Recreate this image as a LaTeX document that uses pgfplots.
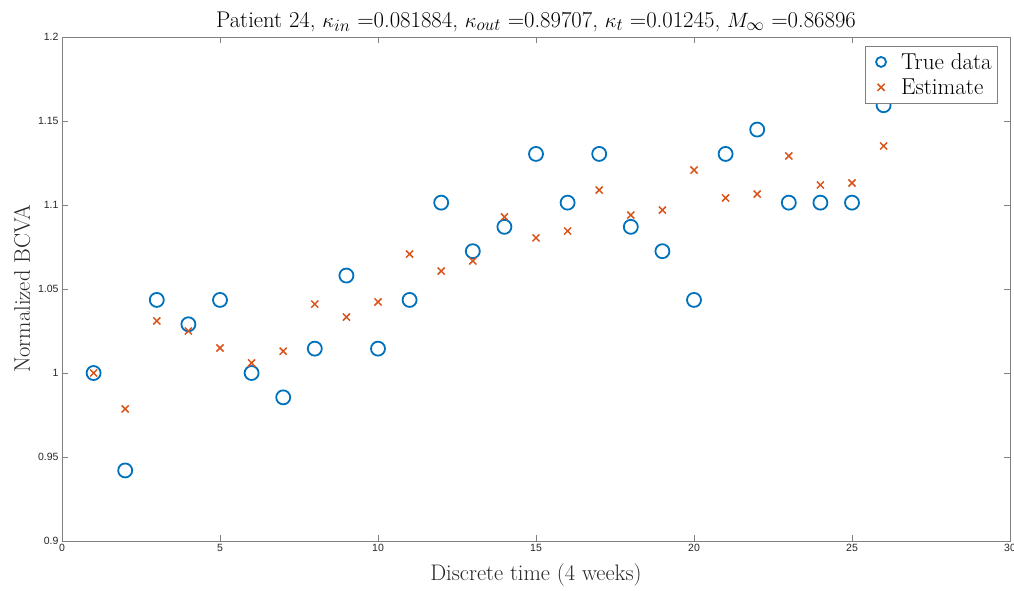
\documentclass[border=0pt]{standalone}
\usepackage{pgfplots}
\pgfplotsset{compat=1.18}
\usepackage{fontspec}
\newfontfamily\tickfont{Liberation Sans}
\definecolor{mblue}{RGB}{0,114,189}
\definecolor{morange}{RGB}{217,83,25}
\definecolor{axgray}{RGB}{128,128,128}
\definecolor{txtgray}{RGB}{38,38,38}
\begin{document}
\begin{tikzpicture}
\begin{axis}[
  scale only axis,
  width=948pt, height=504pt,
  at={(0,0)}, anchor=south west,
  xmin=0, xmax=30, ymin=0.9, ymax=1.2,
  xtick={0,5,...,30},
  ytick={0.9,0.95,1,1.05,1.1,1.15,1.2},
  tick align=inside,
  major tick length=6pt,
  axis line style={axgray, line width=0.6pt},
  every tick/.style={axgray, line width=0.6pt},
  ticklabel style={font=\tickfont\fontsize{10.5}{12}\selectfont, text=txtgray},
  /pgf/number format/assume math mode=true,
  yticklabel style={/pgf/number format/.cd, fixed, precision=2},
  xlabel={Discrete time (4 weeks)},
  ylabel={Normalized BCVA},
  label style={font=\fontsize{22.5}{24}\selectfont, text=txtgray},
  xlabel style={at={(axis description cs:0.5,-0.0774)}, anchor=base},
  ylabel style={at={(axis description cs:-0.0338,0.5)}, anchor=base},
  every axis title shift=0pt,
  title={Patient 24, $\kappa_{in}$ =0.081884, $\kappa_{out}$ =0.89707, $\kappa_t$ =0.01245, $M_\infty$ =0.86896},
  title style={font=\fontsize{22.7}{25}\selectfont, at={(axis description cs:0.5,1.0198)}, anchor=base},
  legend style={at={(0.9863,0.9821)}, anchor=north east, draw=axgray, font=\fontsize{23}{25}\selectfont, inner xsep=3pt, inner ysep=5pt, row sep=4pt},
  legend cell align=left,
  legend image code/.code={\path[draw=none,fill=none] (0pt,-1pt) rectangle (31pt,1pt); \draw[#1,mark size=5pt] plot coordinates {(13pt,0pt)};},
]
\addplot[only marks, mark=o, mark size=7pt, mblue, line width=1.8pt] coordinates {
(1,1.0) (2,0.942) (3,1.0435) (4,1.029) (5,1.0435) (6,1.0) (7,0.9855) (8,1.0145)
(9,1.058) (10,1.0145) (11,1.0435) (12,1.1014) (13,1.0725) (14,1.087) (15,1.1304)
(16,1.1014) (17,1.1304) (18,1.087) (19,1.0725) (20,1.0435) (21,1.1304) (22,1.1449)
(23,1.1014) (24,1.1014) (25,1.1014) (26,1.1594)
};
\addlegendentry{True data}
\addplot[only marks, mark=x, mark size=5pt, morange, line width=1.5pt] coordinates {
(1,1.0) (2,0.9786) (3,1.031) (4,1.025) (5,1.0149) (6,1.006) (7,1.013) (8,1.041)
(9,1.0333) (10,1.0423) (11,1.0708) (12,1.0607) (13,1.0667) (14,1.0929) (15,1.0804)
(16,1.0845) (17,1.1089) (18,1.094) (19,1.097) (20,1.1208) (21,1.1042) (22,1.1065)
(23,1.1292) (24,1.1119) (25,1.1131) (26,1.1351)
};
\addlegendentry{Estimate}
\end{axis}
\pgfresetboundingbox
\path[use as bounding box] (-62pt,-49pt) rectangle (952pt,541pt);
\end{tikzpicture}
\end{document}
